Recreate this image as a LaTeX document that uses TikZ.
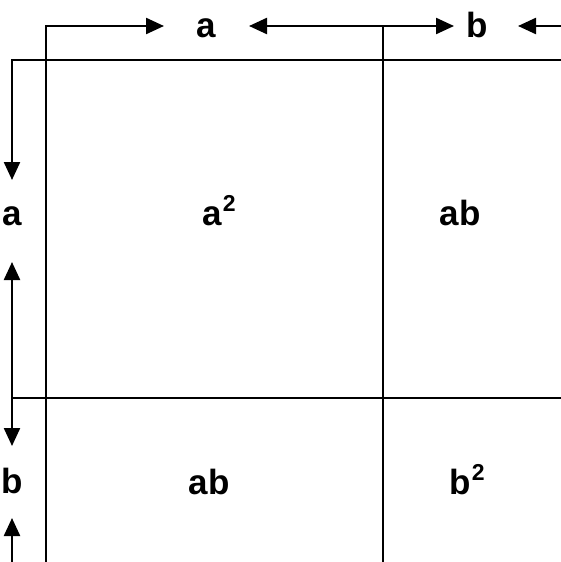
\documentclass[tikz,border=0pt]{standalone}
\usepackage{fontspec}
\setmainfont{Liberation Sans}
\usetikzlibrary{arrows.meta}
\begin{document}
\begin{tikzpicture}[x=1pt,y=-1pt,
  rule/.style={line width=2.3pt,line cap=rect},
  dim/.style={line width=2.3pt,-{Triangle[length=18pt,width=16pt]}},
  lbl/.style={inner sep=0pt,anchor=base,font=\fontsize{35}{35}\selectfont\bfseries}]
\useasboundingbox (0,0) rectangle (561,562);
% named points
\coordinate (t1) at (46,26);
\coordinate (t2) at (383,26);
\coordinate (tr) at (561,26);
\coordinate (b1) at (46,562);
\coordinate (b2) at (383,562);
\coordinate (l1) at (12,60);
\coordinate (r1) at (561,60);
\coordinate (l2) at (12,398);
\coordinate (r2) at (561,398);
\coordinate (lb) at (12,562);
\coordinate (ta1) at (164,26);
\coordinate (ta2) at (249,26);
\coordinate (tb1) at (454,26);
\coordinate (tb2) at (518,26);
\coordinate (la1) at (12,180);
\coordinate (la2) at (12,262);
\coordinate (lb1) at (12,446);
\coordinate (lb2) at (12,518);
% labels
\node[lbl] (topa) at (206,37) {a};
\node[lbl] (topb) at (477,37) {b};
\node[lbl] (lefta) at (12,225) {a};
\node[lbl] (leftb) at (12,493) {b};
\newcommand{\sqr}{\kern1pt\raisebox{14pt}{\fontsize{23}{23}\selectfont 2}}
\node[lbl] (asq) at (219,225) {a\sqr};
\node[lbl] (abtop) at (460,225) {ab};
\node[lbl] (abbot) at (209,494) {ab};
\node[lbl] (bsq) at (467,494) {b\sqr};
% square lines
\draw[rule] (t1) -- (b1);
\draw[rule] (t2) -- (b2);
\draw[rule] (l1) -- (r1);
\draw[rule] (l2) -- (r2);
% dimension arrows
\draw[dim] (t1) -- (ta1);
\draw[dim] (t2) -- (ta2);
\draw[dim] (t2) -- (tb1);
\draw[dim] (tr) -- (tb2);
\draw[dim] (l1) -- (la1);
\draw[dim] (l2) -- (la2);
\draw[dim] (l2) -- (lb1);
\draw[dim] (lb) -- (lb2);
\end{tikzpicture}
\end{document}
